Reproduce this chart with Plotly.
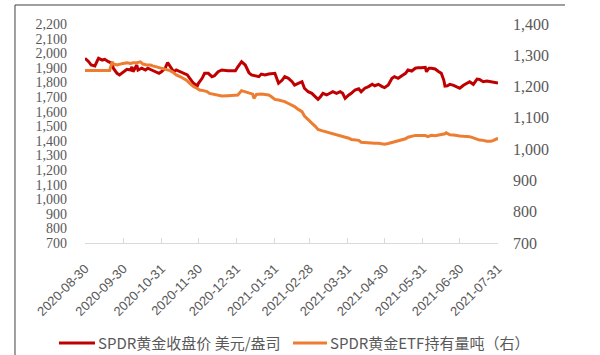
import plotly.graph_objects as go

# ---- data ----
price_dates = [
    "2020-08-30", "2020-09-02", "2020-09-04", "2020-09-07", "2020-09-09", "2020-09-10",
    "2020-09-13", "2020-09-15", "2020-09-18", "2020-09-21", "2020-09-22", "2020-09-25",
    "2020-09-27", "2020-09-30", "2020-10-03", "2020-10-06", "2020-10-07", "2020-10-08",
    "2020-10-11", "2020-10-12", "2020-10-15", "2020-10-18", "2020-10-20", "2020-10-23",
    "2020-10-26", "2020-10-29", "2020-10-31", "2020-11-03", "2020-11-05", "2020-11-07",
    "2020-11-10", "2020-11-12", "2020-11-15", "2020-11-18", "2020-11-21", "2020-11-23",
    "2020-11-26", "2020-11-29", "2020-11-30", "2020-12-03", "2020-12-05", "2020-12-08",
    "2020-12-11", "2020-12-13", "2020-12-16", "2020-12-19", "2020-12-22", "2020-12-24",
    "2020-12-27", "2020-12-30", "2021-01-01", "2021-01-04", "2021-01-07", "2021-01-10",
    "2021-01-12", "2021-01-15", "2021-01-18", "2021-01-20", "2021-01-23", "2021-01-26",
    "2021-01-28", "2021-01-31", "2021-02-03", "2021-02-06", "2021-02-08", "2021-02-11",
    "2021-02-14", "2021-02-16", "2021-02-19", "2021-02-22", "2021-02-24", "2021-02-27",
    "2021-03-02", "2021-03-05", "2021-03-07", "2021-03-09", "2021-03-11", "2021-03-14",
    "2021-03-17", "2021-03-19", "2021-03-22", "2021-03-25", "2021-03-27", "2021-03-29",
    "2021-04-01", "2021-04-03", "2021-04-06", "2021-04-09", "2021-04-11", "2021-04-14",
    "2021-04-17", "2021-04-20", "2021-04-22", "2021-04-25", "2021-04-28", "2021-04-30",
    "2021-05-03", "2021-05-06", "2021-05-08", "2021-05-11", "2021-05-14", "2021-05-17",
    "2021-05-19", "2021-05-22", "2021-05-25", "2021-05-27", "2021-05-30", "2021-06-02",
    "2021-06-03", "2021-06-05", "2021-06-07", "2021-06-10", "2021-06-13", "2021-06-15",
    "2021-06-17", "2021-06-18", "2021-06-20", "2021-06-22", "2021-06-25", "2021-06-28",
    "2021-06-30", "2021-07-03", "2021-07-06", "2021-07-08", "2021-07-11", "2021-07-14",
    "2021-07-16", "2021-07-19", "2021-07-22", "2021-07-25", "2021-07-27", "2021-07-30",
    "2021-07-31",
]
price_values = [
    1965, 1942, 1919, 1912, 1949, 1965,
    1953, 1958, 1942, 1931, 1897, 1862,
    1851, 1873, 1890, 1885, 1907, 1873,
    1919, 1885, 1897, 1885, 1897, 1885,
    1873, 1862, 1873, 1897, 1935, 1907,
    1873, 1885, 1873, 1862, 1851, 1828,
    1794, 1775, 1794, 1828, 1862, 1862,
    1839, 1845, 1873, 1885, 1880, 1880,
    1880, 1880, 1907, 1942, 1919, 1866,
    1851, 1844, 1839, 1857, 1851, 1857,
    1857, 1862, 1794, 1816, 1839, 1828,
    1805, 1782, 1794, 1805, 1760, 1736,
    1725, 1702, 1684, 1702, 1725, 1714,
    1729, 1736, 1725, 1736, 1725, 1691,
    1714, 1725, 1748, 1756, 1736, 1760,
    1771, 1787, 1777, 1787, 1771, 1764,
    1782, 1828, 1839, 1828, 1846, 1862,
    1885, 1878, 1897, 1901, 1901, 1903,
    1873, 1897, 1897, 1892, 1873, 1862,
    1816, 1775, 1777, 1787, 1780, 1771,
    1760, 1780, 1794, 1805, 1787, 1823,
    1820, 1805, 1810, 1805, 1801, 1794,
    1795,
]

holding_dates = [
    "2020-08-30", "2020-09-19", "2020-09-21", "2020-09-22", "2020-09-25", "2020-09-27",
    "2020-09-30", "2020-10-03", "2020-10-06", "2020-10-08", "2020-10-11", "2020-10-14",
    "2020-10-16", "2020-10-19", "2020-10-22", "2020-10-24", "2020-10-27", "2020-10-30",
    "2020-11-02", "2020-11-04", "2020-11-07", "2020-11-10", "2020-11-12", "2020-11-15",
    "2020-11-18", "2020-11-20", "2020-11-23", "2020-11-26", "2020-11-29", "2020-12-01",
    "2020-12-04", "2020-12-07", "2020-12-09", "2020-12-12", "2020-12-15", "2020-12-19",
    "2020-12-24", "2020-12-30", "2021-01-01", "2021-01-04", "2021-01-07", "2021-01-09",
    "2021-01-12", "2021-01-13", "2021-01-14", "2021-01-16", "2021-01-20", "2021-01-26",
    "2021-01-28", "2021-01-31", "2021-02-03", "2021-02-06", "2021-02-08", "2021-02-11",
    "2021-02-14", "2021-02-16", "2021-02-19", "2021-02-22", "2021-02-24", "2021-02-27",
    "2021-03-02", "2021-03-05", "2021-03-07", "2021-03-10", "2021-03-13", "2021-03-15",
    "2021-03-18", "2021-03-21", "2021-03-23", "2021-03-26", "2021-03-29", "2021-04-01",
    "2021-04-03", "2021-04-06", "2021-04-09", "2021-04-11", "2021-04-14", "2021-04-17",
    "2021-04-20", "2021-04-22", "2021-04-25", "2021-04-28", "2021-04-30", "2021-05-03",
    "2021-05-06", "2021-05-08", "2021-05-11", "2021-05-14", "2021-05-17", "2021-05-19",
    "2021-05-22", "2021-05-25", "2021-05-27", "2021-05-30", "2021-06-02", "2021-06-04",
    "2021-06-07", "2021-06-10", "2021-06-13", "2021-06-15", "2021-06-18", "2021-06-19",
    "2021-06-22", "2021-06-25", "2021-06-27", "2021-06-30", "2021-07-03", "2021-07-06",
    "2021-07-08", "2021-07-11", "2021-07-14", "2021-07-16", "2021-07-19", "2021-07-22",
    "2021-07-25", "2021-07-27", "2021-07-30", "2021-07-31",
]
holding_values = [
    1251, 1251, 1279, 1272, 1269, 1272,
    1274, 1276, 1274, 1276, 1276, 1279,
    1272, 1269, 1269, 1266, 1263, 1258,
    1255, 1253, 1251, 1244, 1237, 1232,
    1226, 1221, 1210, 1200, 1194, 1189,
    1187, 1184, 1178, 1175, 1172, 1170,
    1171, 1171, 1173, 1187, 1184, 1180,
    1178, 1176, 1162, 1175, 1176, 1173,
    1168, 1159, 1157, 1155, 1152, 1146,
    1141, 1136, 1127, 1120, 1106, 1093,
    1083, 1072, 1063, 1059, 1056, 1053,
    1051, 1048, 1045, 1042, 1038, 1035,
    1031, 1029, 1028, 1022, 1021, 1019,
    1020, 1019, 1019, 1017, 1016, 1018,
    1021, 1023, 1026, 1028, 1033, 1038,
    1042, 1044, 1044, 1043, 1044, 1040,
    1044, 1043, 1045, 1046, 1049, 1052,
    1046, 1045, 1043, 1042, 1041, 1040,
    1040, 1036, 1032, 1029, 1028, 1025,
    1025, 1027, 1033, 1033,
]

tick_dates = [
    "2020-08-30", "2020-09-30", "2020-10-31", "2020-11-30", "2020-12-31", "2021-01-31",
    "2021-02-28", "2021-03-31", "2021-04-30", "2021-05-31", "2021-06-30", "2021-07-31",
]
left_ticks = list(range(700, 2201, 100))
right_ticks = list(range(700, 1401, 100))

price_name = "SPDR黄金收盘价 美元/盎司"
holding_name = "SPDR黄金ETF持有量吨（右）"
price_color = "#C00000"
holding_color = "#ED7D31"

GREY = "#595959"
SERIF = "Liberation Serif, Times New Roman, serif"
SANS = "Liberation Sans, Arial, sans-serif"
CJK = "Noto Sans CJK SC, sans-serif"

fig = go.Figure()
fig.add_trace(go.Scatter(
    x=price_dates, y=price_values, name=price_name, mode="lines",
    line=dict(color=price_color, width=3), yaxis="y",
))
fig.add_trace(go.Scatter(
    x=holding_dates, y=holding_values, name=holding_name, mode="lines",
    line=dict(color=holding_color, width=3), yaxis="y2",
))

# legend drawn as line samples + text (keeps the plot area from being pushed)
LEG_Y = -0.4566
legend_items = [
    (price_name, price_color, -0.063, 0.0242, 0.027),
    (holding_name, holding_color, 0.5036, 0.586, 0.588),
]
shapes = [
    dict(type="line", xref="paper", yref="paper",
         x0=-0.1695, x1=1.1622, y0=1.0868, y1=1.0868,
         line=dict(color="#404040", width=1)),
    dict(type="line", xref="paper", yref="paper",
         x0=-0.1695, x1=-0.1695, y0=1.0868, y1=-0.53,
         line=dict(color="#404040", width=1)),
]
annotations = []
for name, color, lx0, lx1, tx in legend_items:
    shapes.append(dict(type="line", xref="paper", yref="paper",
                       x0=lx0, x1=lx1, y0=LEG_Y, y1=LEG_Y,
                       line=dict(color=color, width=3)))
    annotations.append(dict(text=name, xref="paper", yref="paper",
                            x=tx, y=LEG_Y, xanchor="left", yanchor="middle",
                            showarrow=False,
                            font=dict(family=CJK, size=15, color=GREY)))

fig.update_layout(
    width=600, height=355,
    margin=dict(l=85, r=102, t=24, b=112),
    paper_bgcolor="white", plot_bgcolor="white",
    showlegend=False,
    xaxis=dict(
        type="date", range=["2020-08-30", "2021-07-31"], automargin=False,
        tickmode="array", tickvals=tick_dates, ticktext=tick_dates,
        tickangle=-45, tickfont=dict(family=SANS, size=13, color=GREY),
        showgrid=False, zeroline=False,
        showline=True, linecolor="#D9D9D9", linewidth=1,
        ticks="inside", ticklen=5, tickcolor="#D9D9D9", tickwidth=1,
        ticklabelstandoff=12,
    ),
    yaxis=dict(
        range=[700, 2200], tickmode="array", tickvals=left_ticks, automargin=False,
        tickformat=",", tickfont=dict(family=SERIF, size=14, color=GREY),
        showgrid=False, zeroline=False, showline=False, ticks="",
        ticklabelstandoff=17,
    ),
    yaxis2=dict(
        range=[700, 1400], tickmode="array", tickvals=right_ticks, automargin=False,
        tickformat=",", tickfont=dict(family=SERIF, size=16, color=GREY),
        overlaying="y", side="right",
        showgrid=False, zeroline=False, showline=False, ticks="",
        ticklabelstandoff=14,
    ),
    shapes=shapes,
    annotations=annotations,
)

fig.write_html(
    "out.html",
    config={"displayModeBar": False},
    post_script="document.body.style.margin='0px';document.body.style.overflow='hidden';",
)
